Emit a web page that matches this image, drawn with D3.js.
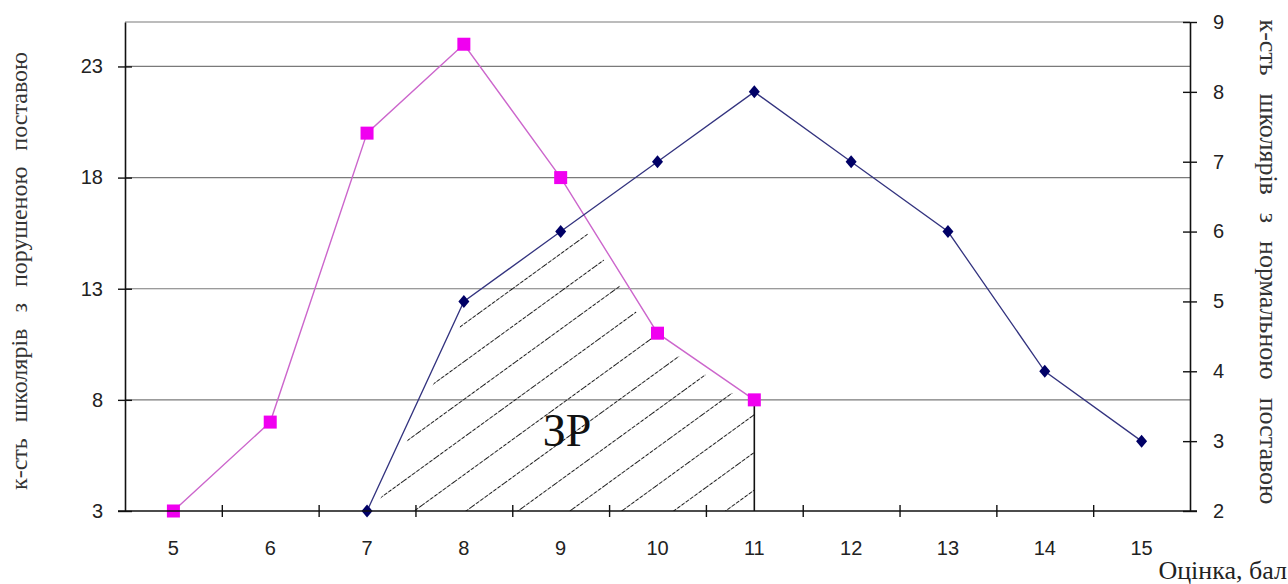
<!DOCTYPE html>
<html>
<head>
<meta charset="utf-8">
<script src="https://cdn.jsdelivr.net/npm/d3@7/dist/d3.min.js"></script>
<style>
  html, body { margin: 0; padding: 0; background: #fff; }
  svg { display: block; }
</style>
</head>
<body>
<svg id="chart" width="1288" height="584"></svg>
<script>
// ---- data ----
const grades = [5, 6, 7, 8, 9, 10, 11, 12, 13, 14, 15];
const poorGrades = [5, 6, 7, 8, 9, 10, 11];
const poorValues = [3, 7, 20, 24, 18, 11, 8];          // left axis
const normalGrades = [7, 8, 9, 10, 11, 12, 13, 14, 15];
const normalValues = [2, 5, 6, 7, 8, 7, 6, 4, 3];      // right axis
const leftTicks = [3, 8, 13, 18, 23];
const rightTicks = [2, 3, 4, 5, 6, 7, 8, 9];
const leftTitle = "к-сть школярів з порушеною поставою";
const rightTitle = "к-сть школярів з нормальною поставою";
const xTitle = "Оцінка, бал";
const zoneLabel = "ЗР";

// ---- layout ----
const L = 125, R = 1190, T = 22, B = 511;
const svg = d3.select("#chart");

const x = d3.scaleBand().domain(grades).range([L, R]).padding(0);
const xEdge = d3.scaleLinear().domain([0, grades.length]).range([L, R]);
const yL = d3.scaleLinear().domain([3, 25]).range([B, T]);
const yR = d3.scaleLinear().domain([2, 9]).range([B, T]);
const cx = g => x(g) + x.bandwidth() / 2;

// gridlines
svg.append("g").selectAll("line").data(leftTicks.slice(1).concat([25])).join("line")
  .attr("x1", L).attr("x2", R)
  .attr("y1", d => yL(d)).attr("y2", d => yL(d))
  .attr("stroke", "#7a7a7a").attr("stroke-width", 1.2);

// ---- hatched zone (ЗР) ----
const poorPts = poorGrades.map((g, i) => [cx(g), yL(poorValues[i])]);
const normPts = normalGrades.map((g, i) => [cx(g), yR(normalValues[i])]);
const pA = poorPts[poorGrades.indexOf(9)], pB = poorPts[poorGrades.indexOf(10)];
const nA = normPts[normalGrades.indexOf(9)], nB = normPts[normalGrades.indexOf(10)];
const t = (nA[1] - pA[1]) / ((pB[1] - pA[1]) - (nB[1] - nA[1]));
const ix = [pA[0] + t * (pB[0] - pA[0]), pA[1] + t * (pB[1] - pA[1])];
const p11 = poorPts[poorGrades.indexOf(11)];
const edgePts = [normPts[0], normPts[1], normPts[2], ix, pB, p11];
const zonePoly = edgePts.concat([[p11[0], B], [normPts[0][0], B]]);

const defs = svg.append("defs");
const pat = defs.append("pattern")
  .attr("id", "hatch").attr("patternUnits", "userSpaceOnUse")
  .attr("width", 40).attr("height", 30.5)
  .attr("patternTransform", "translate(513," + (B - 15.25) + ") rotate(-36)");
pat.append("line").attr("x1", 0).attr("x2", 40).attr("y1", 15.25).attr("y2", 15.25)
  .attr("stroke", "#1a1a1a").attr("stroke-width", 1).attr("stroke-dasharray", "4,1.3");

const mask = defs.append("mask").attr("id", "zoneMask").attr("maskUnits", "userSpaceOnUse")
  .attr("x", 0).attr("y", 0).attr("width", 1288).attr("height", 584);
mask.append("path").attr("d", d3.line()(zonePoly) + "Z").attr("fill", "#fff");
mask.append("path").attr("d", d3.line()(edgePts)).attr("fill", "none")
  .attr("stroke", "#000").attr("stroke-width", 14);

svg.append("path").attr("d", d3.line()(zonePoly) + "Z")
  .attr("fill", "url(#hatch)").attr("mask", "url(#zoneMask)");

svg.append("line")
  .attr("x1", p11[0]).attr("x2", p11[0]).attr("y1", p11[1]).attr("y2", B)
  .attr("stroke", "#111").attr("stroke-width", 1.6);

svg.append("text").text(zoneLabel)
  .attr("x", 567).attr("y", 446).attr("text-anchor", "middle")
  .attr("font-family", "Liberation Serif, Times New Roman, serif")
  .attr("font-size", 46).attr("fill", "#111");

// ---- series ----
svg.append("path").datum(poorPts)
  .attr("d", d3.line()).attr("fill", "none")
  .attr("stroke", "#cc66cc").attr("stroke-width", 1.4);
svg.append("path").datum(normPts)
  .attr("d", d3.line()).attr("fill", "none")
  .attr("stroke", "#33337f").attr("stroke-width", 1.3);

svg.append("g").selectAll("rect").data(poorPts).join("rect")
  .attr("x", d => d[0] - 6.5).attr("y", d => d[1] - 6.5)
  .attr("width", 13).attr("height", 13)
  .attr("fill", "#f000f0");
svg.append("g").selectAll("path").data(normPts).join("path")
  .attr("d", d => `M${d[0]},${d[1] - 6.5}L${d[0] + 5.5},${d[1]}L${d[0]},${d[1] + 6.5}L${d[0] - 5.5},${d[1]}Z`)
  .attr("fill", "#000066");

// ---- axes ----
const tickFont = "Liberation Sans, Arial, sans-serif";
function crossTicks(g, dir) {
  g.selectAll(".tick line").each(function () {
    const l = d3.select(this);
    if (dir === "h") l.attr("x1", -7).attr("x2", 7);
    else l.attr("y1", -6).attr("y2", 6);
  });
}

const gL = svg.append("g").attr("transform", `translate(${L},0)`)
  .call(d3.axisLeft(yL).tickValues(leftTicks).tickSize(6).tickSizeOuter(0).tickPadding(16));
crossTicks(gL, "h");

const gR = svg.append("g").attr("transform", `translate(${R},0)`)
  .call(d3.axisRight(yR).tickValues(rightTicks).tickFormat(d3.format("d"))
    .tickSize(6).tickSizeOuter(0).tickPadding(17));
crossTicks(gR, "h");

const gBt = svg.append("g").attr("transform", `translate(0,${B})`)
  .call(d3.axisBottom(xEdge).tickValues(d3.range(1, grades.length)).tickSize(6).tickSizeOuter(0).tickFormat(""));
crossTicks(gBt, "v");

const gB = svg.append("g").attr("transform", `translate(0,${B})`)
  .call(d3.axisBottom(x).tickSize(0).tickSizeOuter(0).tickPadding(30));
gB.select(".domain").remove();

[gL, gR, gBt].forEach(g => {
  g.select(".domain").attr("stroke", "#111").attr("stroke-width", 1.6);
  g.selectAll(".tick line").attr("stroke", "#111").attr("stroke-width", 1.4);
});
gBt.select(".domain").attr("d", `M${L - 7},0H${R + 7}`);
[gL, gR, gB].forEach(g => {
  g.selectAll(".tick text").attr("font-family", tickFont).attr("font-size", 20).attr("fill", "#222");
});

// ---- titles ----
const serif = "Liberation Serif, Times New Roman, serif";
function spreadWords(sel, target) {
  const natural = sel.node().getComputedTextLength();
  const spaces = (sel.text().match(/ /g) || []).length;
  sel.attr("word-spacing", Math.max(0, (target - natural) / spaces));
}
const lt = svg.append("text").text(leftTitle)
  .attr("transform", "translate(27,271) rotate(-90)")
  .attr("text-anchor", "middle").attr("font-family", serif).attr("font-size", 24)
  .attr("fill", "#333");
spreadWords(lt, 438);
const rt = svg.append("text").text(rightTitle)
  .attr("transform", "translate(1260,262) rotate(90)")
  .attr("text-anchor", "middle").attr("font-family", serif).attr("font-size", 26)
  .attr("fill", "#333");
spreadWords(rt, 485);
svg.append("text").text(xTitle)
  .attr("x", 1287).attr("y", 579).attr("text-anchor", "end")
  .attr("font-family", serif).attr("font-size", 26).attr("fill", "#222");
</script>
</body>
</html>
